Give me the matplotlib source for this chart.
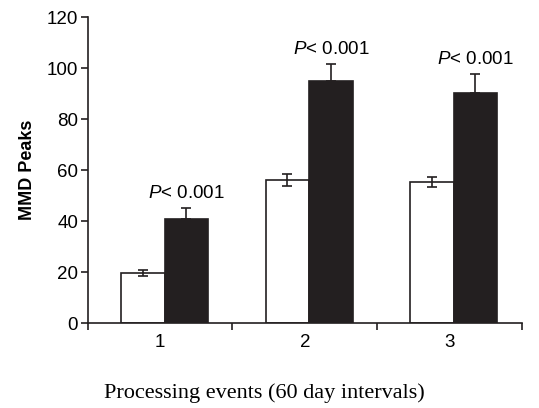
import numpy as np
import matplotlib.pyplot as plt

# values
events = [1, 2, 3]
control = [19.7, 56.0, 55.3]
control_err = [1.2, 2.3, 2.0]
treated = [40.7, 95.0, 90.2]
treated_err = [4.3, 6.5, 7.4]
p_labels = ["$P$< 0.001", "$P$< 0.001", "$P$< 0.001"]

plt.rcParams['font.family'] = ['Liberation Sans', 'DejaVu Sans']
plt.rcParams['mathtext.fontset'] = 'custom'
plt.rcParams['mathtext.it'] = 'Liberation Sans:italic'
plt.rcParams['mathtext.rm'] = 'Liberation Sans'

fs = 13.5
fig = plt.figure(figsize=(5.39, 4.08), dpi=100)
ax = fig.add_axes([0.163, 0.208, 0.805, 0.75])

x = np.array(events) + 0.03
w = 0.3
ax.bar(x - w / 2, control, w, color='white', edgecolor='#231f20', linewidth=1.2, zorder=2)
ax.bar(x + w / 2, treated, w, color='#231f20', edgecolor='#231f20', linewidth=1.2, zorder=2)
ax.errorbar(x - w / 2, control, yerr=control_err, fmt='none', ecolor='#231f20',
            elinewidth=1.2, capsize=3.5, capthick=1.2, zorder=3)
ax.errorbar(x + w / 2, treated, yerr=[np.zeros(3), treated_err], fmt='none', ecolor='#231f20',
            elinewidth=1.2, capsize=3.5, capthick=1.2, zorder=1)

for xi, t, e, lab in zip(x, treated, treated_err, p_labels):
    ax.text(xi + w / 2, t + e + 2.5, lab, ha='center', va='bottom', fontsize=fs)

ax.set_xlim(0.5, 3.5)
ax.set_ylim(0, 120)
ax.set_yticks(range(0, 121, 20))
ax.set_xticks([0.5, 1.5, 2.5, 3.5])
ax.set_xticklabels([])
ax.set_xticks(events, minor=True)
ax.set_xticklabels([str(e) for e in events], minor=True)
ax.tick_params(axis='x', which='minor', length=0, pad=8, labelsize=fs)
ax.tick_params(axis='both', which='major', direction='out', length=5, width=1.2,
               labelsize=fs, color='#231f20', pad=2)
for s in ['top', 'right']:
    ax.spines[s].set_visible(False)
for s in ['left', 'bottom']:
    ax.spines[s].set_linewidth(1.2)
    ax.spines[s].set_color('#231f20')

ax.set_ylabel('MMD Peaks', fontsize=13, fontweight='bold', labelpad=8)
fig.text(0.49, 0.012, 'Processing events (60 day intervals)', ha='center', va='bottom',
         fontsize=16, family='Liberation Serif')

fig.savefig('out.png', dpi=100)
